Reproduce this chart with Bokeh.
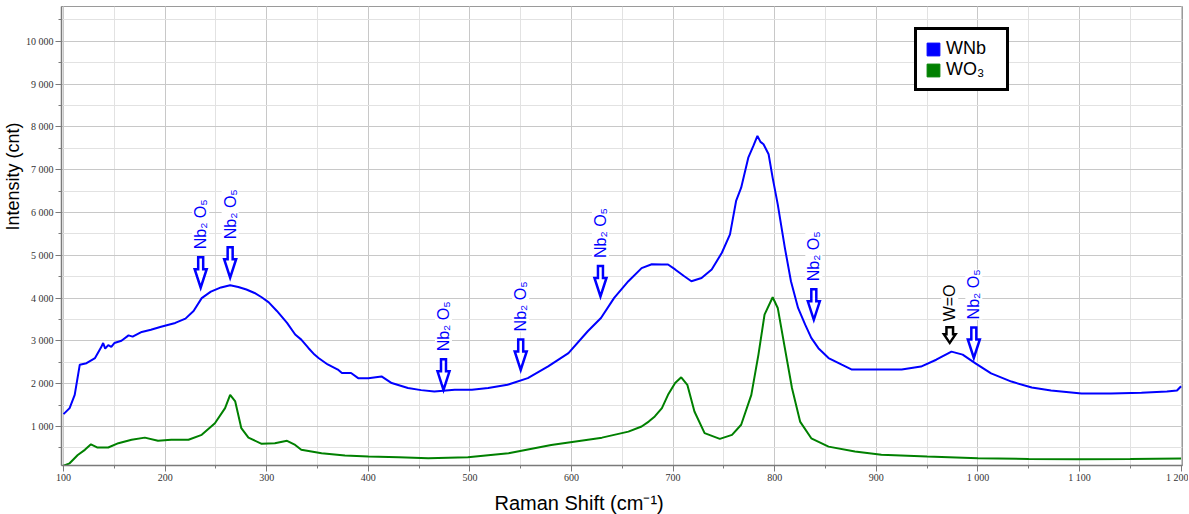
from math import pi
from bokeh.plotting import figure
from bokeh.models import (Range1d, SingleIntervalTicker, CustomJSTickFormatter, Title,
                          Legend, LegendItem, ColumnDataSource)
from bokeh.core.properties import value
from bokeh.embed import file_html
from bokeh.resources import INLINE

# ---------------- data ----------------
wnb_x = [100, 106, 111, 116, 122.6, 131, 137, 139, 141, 144, 147, 150, 157, 164, 168, 177,
         186, 196, 210, 220, 228, 236, 245, 255, 264, 272, 280, 288, 295, 302, 310, 320,
         328, 334, 341, 347, 351, 360, 370, 374, 383, 390, 400, 413, 423, 439, 452, 465,
         485, 502, 518, 537, 557, 577, 597, 616, 629, 642, 656, 669, 679, 689, 695, 702,
         711, 718, 728, 738, 748, 756, 762, 767, 774, 779, 783, 786, 789, 794, 798, 803,
         810, 816, 823, 830, 836, 843, 853, 866, 876, 892, 905, 925, 944, 959, 974, 985,
         998, 1013, 1033, 1053, 1072, 1102, 1131, 1161, 1186, 1196, 1200]
wnb_y = [1290, 1430, 1740, 2445, 2480, 2600, 2850, 2950, 2820, 2900, 2860, 2950, 3005, 3130, 3100, 3210,
         3260, 3330, 3420, 3520, 3700, 4000, 4150, 4250, 4300, 4260, 4200, 4120, 4020, 3900, 3700, 3420,
         3150, 3030, 2835, 2680, 2600, 2450, 2330, 2250, 2250, 2130, 2130, 2170, 2015, 1900, 1850, 1820,
         1860, 1860, 1900, 1975, 2130, 2405, 2715, 3225, 3535, 4005, 4395, 4700, 4790, 4785, 4785, 4670,
         4510, 4395, 4470, 4670, 5060, 5490, 6270, 6580, 7280, 7555, 7790, 7650, 7595, 7360, 6810, 6190,
         5175, 4395, 3770, 3380, 3070, 2830, 2600, 2445, 2330, 2330, 2330, 2330, 2400, 2560, 2750, 2680,
         2470, 2240, 2050, 1910, 1840, 1770, 1770, 1790, 1820, 1840, 1940]

wo3_x = [100, 106, 114, 121, 127, 133, 144, 154, 167, 180, 193, 206, 223, 236, 249, 259, 264,
         269, 275, 282, 295, 308, 320, 328, 334, 354, 377, 400, 430, 459, 498, 538, 580, 630,
         656, 669, 676, 682, 689, 695, 702, 708, 714, 721, 731, 746, 758, 767, 777, 784, 790,
         798, 803, 810, 817, 825, 836, 853, 879, 905, 950, 1000, 1050, 1100, 1150, 1200]
wo3_y = [85, 140, 335, 455, 585, 510, 510, 610, 690, 740, 665, 690, 690, 805, 1075, 1430, 1740,
         1585, 960, 740, 595, 610, 665, 570, 455, 375, 320, 300, 280, 260, 280, 375, 570, 740,
         880, 1000, 1115, 1235, 1430, 1740, 2015, 2150, 1975, 1350, 845, 710, 805, 1040, 1740, 2680, 3615,
         4020, 3770, 2830, 1900, 1115, 725, 530, 415, 340, 300, 260, 240, 235, 240, 250]

# peak annotations
nb_x = [235, 264, 474, 550, 628.5, 838.5, 996]
nb_tip = [4207, 4441, 1821, 2287, 4004, 3458, 2568]
wo_x = [972.3]
wo_tip = [2920]

series_names = ["WNb", "WO₃"]
series_colors = ["#0000ff", "#008000"]

# ---------------- figure ----------------
FW, FH = 1121, 459
x0, x1 = 98.0, 1201.4
y0, y1 = 89.0, 10813.0

p = figure(frame_width=FW, frame_height=FH, min_border_left=60, min_border_right=6,
           min_border_top=6, min_border_bottom=48,
           x_range=Range1d(x0, x1), y_range=Range1d(y0, y1),
           output_backend="svg", toolbar_location=None)
p.background_fill_color = "white"
p.border_fill_color = "white"
p.outline_line_color = "#9a9a9a"
p.outline_line_width = 1

fmt = CustomJSTickFormatter(code=r"return tick.toString().replace(/\B(?=(\d{3})+(?!\d))/g, ' ');")
p.xaxis.ticker = SingleIntervalTicker(interval=100, num_minor_ticks=2)
p.yaxis.ticker = SingleIntervalTicker(interval=1000, num_minor_ticks=2)
for ax in (p.xaxis[0], p.yaxis[0]):
    ax.formatter = fmt
    ax.axis_line_color = "#7a7a7a"
    ax.axis_line_width = 1.5
    ax.major_tick_line_color = "#7a7a7a"
    ax.minor_tick_line_color = "#7a7a7a"
    ax.major_tick_out = 6
    ax.major_tick_in = 0
    ax.minor_tick_out = 3
    ax.minor_tick_in = 0
    ax.major_label_text_font = "Liberation Serif"
    ax.major_label_text_font_size = "10px"
    ax.major_label_text_color = "#333333"
    ax.axis_label = None
p.yaxis.major_label_standoff = 2
p.xaxis.major_label_standoff = 0

for g in (p.xgrid[0], p.ygrid[0]):
    g.grid_line_color = "#c8c8c8"
    g.minor_grid_line_color = "#e2e2e2"
    g.grid_line_width = 1

# curves
p.line(wo3_x, wo3_y, line_color=series_colors[1], line_width=2)
p.line(wnb_x, wnb_y, line_color=series_colors[0], line_width=2)

# arrows (shape in pixel offsets -> data units)
kx = (x1 - x0) / FW
ky = (y1 - y0) / FH
blue_sx = [-2.5, 2.5, 2.5, 6, 0, -6, -2.5]
blue_sy = [32, 32, 20, 20, 1.5, 20, 20]
blk_sx = [-3.3, 3.3, 3.3, 5.8, 0, -5.8, -3.3]
blk_sy = [17, 17, 10, 10, 1.5, 10, 10]

def arrows(xs, tips, sx, sy):
    return ([[x + dx * kx for dx in sx] for x in xs],
            [[t + dy * ky for dy in sy] for t in tips])

bx, by = arrows(nb_x, nb_tip, blue_sx, blue_sy)
p.patches(bx, by, fill_color="white", line_color="#0000ff", line_width=2.5, line_join="miter")
kx2, ky2 = arrows(wo_x, wo_tip, blk_sx, blk_sy)
p.patches(kx2, ky2, fill_color="white", line_color="black", line_width=2.5, line_join="miter")

p.text(x=nb_x, y=nb_tip, text=["Nb₂ O₅"] * len(nb_x), angle=pi / 2, y_offset=-40,
       text_align="left", text_baseline="middle", text_color="#0000ff",
       text_font=value("Liberation Sans"), text_font_size="16px",
       background_fill_color="white")
p.text(x=wo_x, y=wo_tip, text=["W=O"], angle=pi / 2, y_offset=-23,
       text_align="left", text_baseline="middle", text_color="black",
       text_font=value("Liberation Sans"), text_font_size="16px",
       background_fill_color="white")

# axis titles (offset along the axis like the reference)
p.add_layout(Title(text="Intensity (cnt)", align="left", offset=235, standoff=0,
                   text_font="Liberation Sans", text_font_size="18px",
                   text_font_style="normal", text_color="black"), "left")
p.add_layout(Title(text="Raman Shift (cm⁻¹)", align="left", offset=433, standoff=8,
                   text_font="Liberation Sans", text_font_size="20px",
                   text_font_style="normal", text_color="black"), "below")

# legend (square swatches, from invisible area glyphs)
nan = float("nan")
src_leg = ColumnDataSource(dict(l=[nan], r=[nan], b=[nan], t=[nan]))
r1 = p.quad(left="l", right="r", bottom="b", top="t", source=src_leg,
            fill_color=series_colors[0], line_color=series_colors[0])
r2 = p.quad(left="l", right="r", bottom="b", top="t", source=src_leg,
            fill_color=series_colors[1], line_color=series_colors[1])
legend = Legend(items=[LegendItem(label=series_names[0], renderers=[r1]),
                       LegendItem(label=series_names[1], renderers=[r2])],
                location=(853, 374), border_line_color="black", border_line_width=3,
                border_line_alpha=1.0,
                label_text_font="Liberation Sans", label_text_font_size="18px",
                label_text_color="black",
                glyph_width=16, glyph_height=16, label_standoff=5, padding=8, spacing=0,
                label_width=52, label_height=20,
                background_fill_color="white", background_fill_alpha=1.0)
p.add_layout(legend)

open("out.html", "w").write(file_html(p, INLINE))
